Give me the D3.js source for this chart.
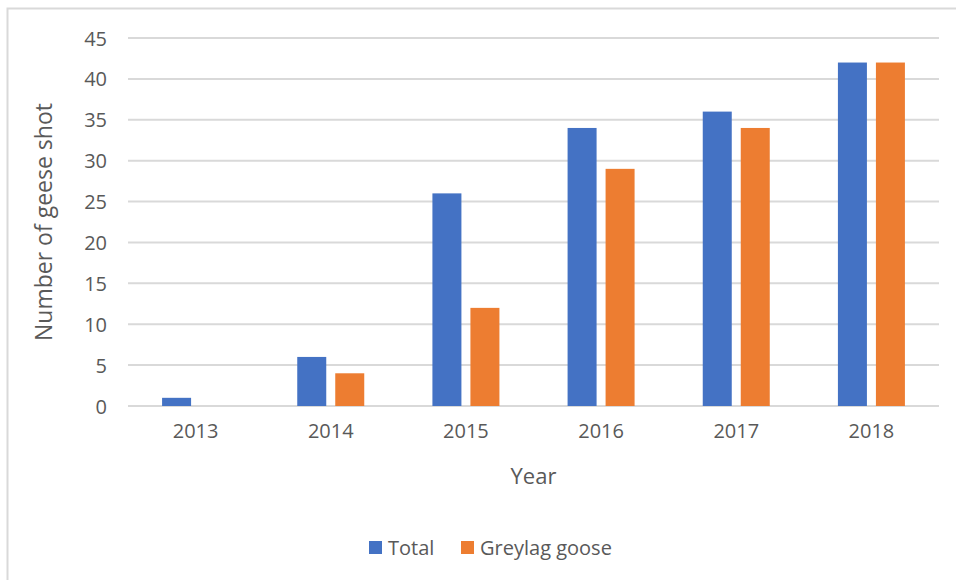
<!DOCTYPE html>
<html><head><meta charset="utf-8">
<script src="https://cdn.jsdelivr.net/npm/d3@7"></script>
<style>body{margin:0;background:#fff}svg{display:block}text{font-family:"Open Sans",sans-serif;fill:#595959}</style>
</head><body><svg id="c" width="956" height="580"></svg>
<script>
const years = ["2013","2014","2015","2016","2017","2018"];
const totalValues = [1, 6, 26, 34, 36, 42];
const greylagValues = [0, 4, 12, 29, 34, 42];
const yTicks = [0,5,10,15,20,25,30,35,40,45];
const seriesNames = ["Total","Greylag goose"];
const colors = ["#4472C4","#ED7D31"];

const svg = d3.select("#c");
svg.append("rect").attr("x",7.5).attr("y",8.5).attr("width",960).attr("height",600)
  .attr("fill","none").attr("stroke","#d9d9d9").attr("stroke-width",2);

const m = {l:128, r:939, t:38, b:406};
const x = d3.scaleBand().domain(years).range([m.l, m.r]);
const y = d3.scaleLinear().domain([0,45]).range([m.b, m.t]);
const barW = 29, gap = 9;

svg.append("g").selectAll("line").data(yTicks).join("line")
  .attr("x1",m.l).attr("x2",m.r).attr("y1",d=>y(d)).attr("y2",d=>y(d))
  .attr("stroke","#d9d9d9").attr("stroke-width",2);

const yAxis = d3.axisLeft(y).tickValues(yTicks).tickSize(0).tickPadding(0);
const ga = svg.append("g").attr("transform",`translate(107,0)`).call(yAxis);
ga.select(".domain").remove();
ga.selectAll("text").attr("font-size",20).attr("fill","#595959").attr("font-family","Open Sans").attr("dy","0.35em");

const xAxis = d3.axisBottom(x).tickSize(0).tickPadding(0);
const gx = svg.append("g").attr("transform",`translate(0,${m.b+32})`).call(xAxis);
gx.select(".domain").remove();
gx.selectAll("text").attr("font-size",20).attr("fill","#595959").attr("font-family","Open Sans").attr("dy","0");

const series = [totalValues, greylagValues];
series.forEach((vals,i)=>{
  svg.append("g").selectAll("rect").data(years).join("rect")
    .attr("x",d=>x(d)+x.bandwidth()/2 + (i===0 ? -gap/2-barW : gap/2))
    .attr("width",barW)
    .attr("y",(d,j)=>y(vals[j]))
    .attr("height",(d,j)=>y(0)-y(vals[j]))
    .attr("fill",colors[i]);
});

svg.append("text").attr("transform",`translate(52,${(m.t+m.b)/2}) rotate(-90)`)
  .attr("text-anchor","middle").attr("font-size",23).text("Number of geese shot");
svg.append("text").attr("x",(m.l+m.r)/2).attr("y",484).attr("text-anchor","middle")
  .attr("font-size",22).text("Year");

const lg = svg.append("g");
const legendX = [369, 461];
seriesNames.forEach((n,i)=>{
  lg.append("rect").attr("x",legendX[i]).attr("y",541).attr("width",13).attr("height",13).attr("fill",colors[i]);
  lg.append("text").attr("x",legendX[i]+19).attr("y",555).attr("font-size",20).text(n);
});
</script></body></html>
